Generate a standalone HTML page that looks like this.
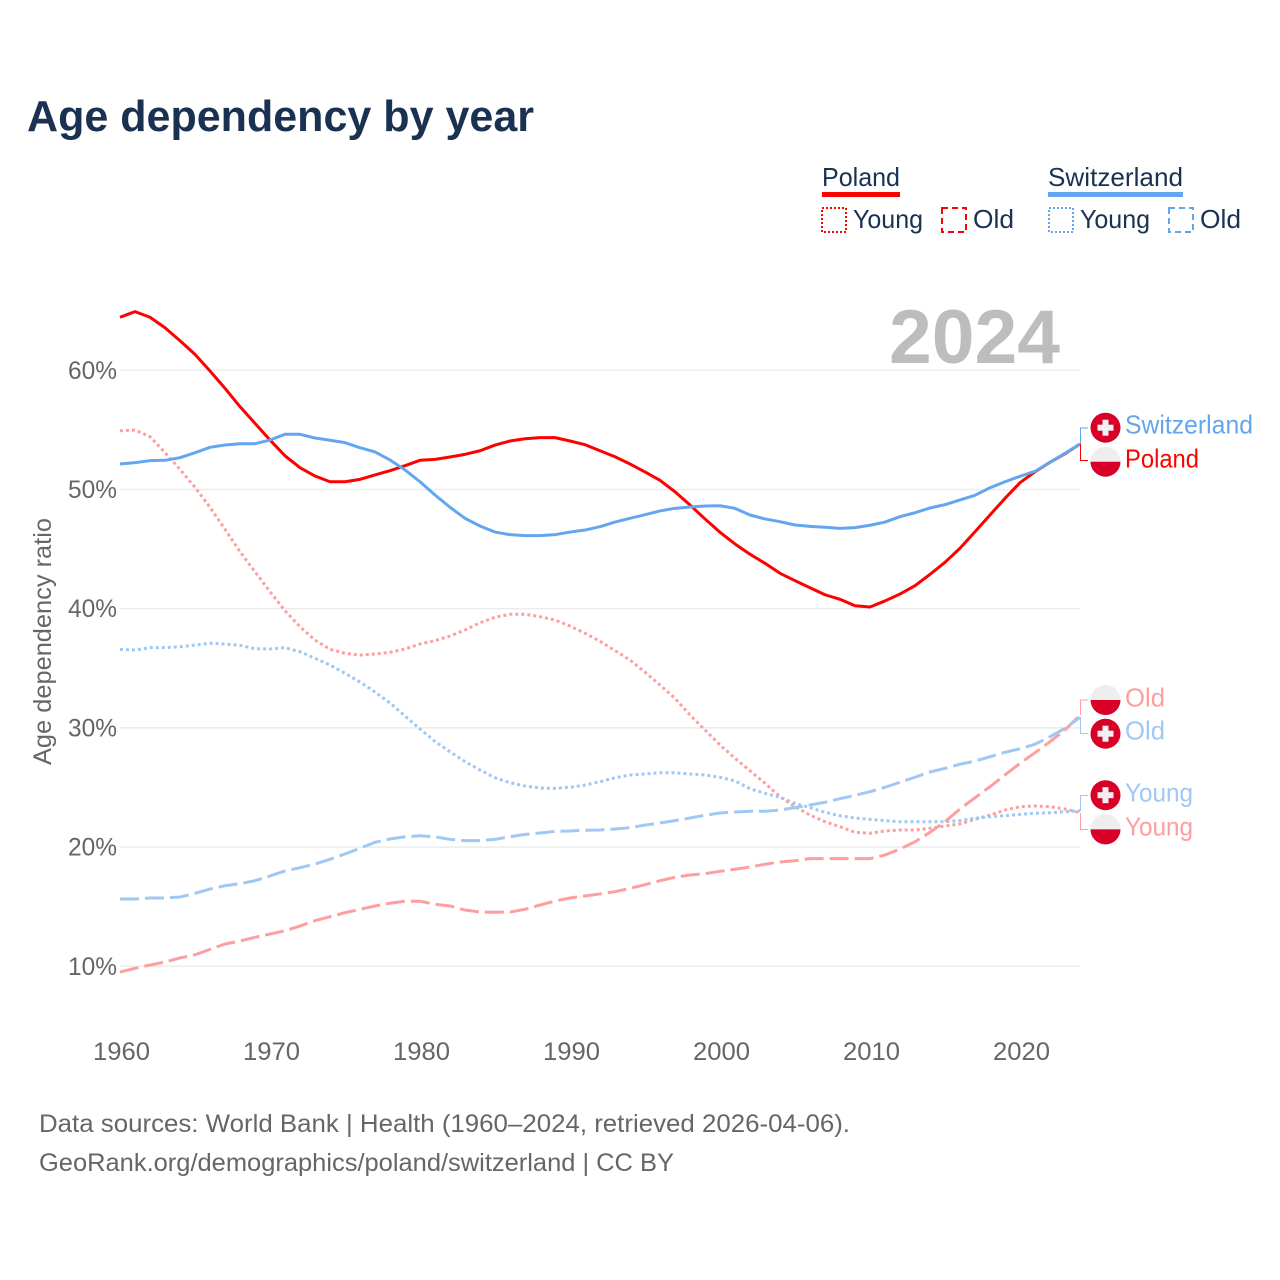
<!DOCTYPE html>
<html lang="en">
<head>
<meta charset="utf-8">
<title>Age dependency by year</title>
<style>
html,body{margin:0;padding:0;background:#fff;}
svg{display:block;font-family:"Liberation Sans",sans-serif;}
</style>
</head>
<body>
<svg id="chart" xmlns="http://www.w3.org/2000/svg" width="1280" height="1280" viewBox="0 0 1280 1280">
  <rect x="0" y="0" width="1280" height="1280" fill="#fff"/>
  <text x="27" y="131" font-size="44" font-weight="700" fill="#1a3152" textLength="507" lengthAdjust="spacingAndGlyphs">Age dependency by year</text>

  <g font-size="26" fill="#1a3152">
    <text x="822" y="186" textLength="78" lengthAdjust="spacingAndGlyphs">Poland</text>
    <rect x="822" y="192" width="78" height="5" fill="#ff0000"/>
    <rect x="822" y="208" width="24" height="24" fill="none" stroke="#ff0000" stroke-width="2" stroke-dasharray="2 2"/>
    <text x="853" y="228" textLength="70" lengthAdjust="spacingAndGlyphs">Young</text>
    <rect x="942" y="208" width="24" height="24" fill="none" stroke="#ff0000" stroke-width="2" stroke-dasharray="6 4"/>
    <text x="973" y="228" textLength="41" lengthAdjust="spacingAndGlyphs">Old</text>

    <text x="1048" y="186" textLength="135" lengthAdjust="spacingAndGlyphs">Switzerland</text>
    <rect x="1048" y="192" width="135" height="5" fill="#63a6ef"/>
    <rect x="1049" y="208" width="24" height="24" fill="none" stroke="#63a6ef" stroke-width="2" stroke-dasharray="2 2"/>
    <text x="1080" y="228" textLength="70" lengthAdjust="spacingAndGlyphs">Young</text>
    <rect x="1169" y="208" width="24" height="24" fill="none" stroke="#63a6ef" stroke-width="2" stroke-dasharray="6 4"/>
    <text x="1200" y="228" textLength="41" lengthAdjust="spacingAndGlyphs">Old</text>
  </g>

  <text x="889" y="363" font-size="76" font-weight="700" fill="#bdbdbd" textLength="171" lengthAdjust="spacingAndGlyphs">2024</text>
  <text transform="translate(51,765) rotate(-90)" x="0" y="0" font-size="25" fill="#666" textLength="247" lengthAdjust="spacingAndGlyphs">Age dependency ratio</text>

  <g id="grid"></g>
  <g id="yticks"></g>
  <g id="xticks"></g>
  <g id="lines"></g>

  <g font-size="26">
    <polyline points="1080.5,444 1080.5,428 1088,428" fill="none" stroke="#63a6ef" stroke-width="1"/>
    <polyline points="1080.5,444 1080.5,460.5 1088,460.5" fill="none" stroke="#ff0000" stroke-width="1"/>
    <polyline points="1080.5,715 1080.5,700 1088,700" fill="none" stroke="#ff9e9e" stroke-width="1"/>
    <polyline points="1080.5,717 1080.5,733.5 1088,733.5" fill="none" stroke="#9fc8f3" stroke-width="1"/>
    <polyline points="1080.5,811 1080.5,795.5 1088,795.5" fill="none" stroke="#9fc8f3" stroke-width="1"/>
    <polyline points="1080.5,813 1080.5,829.5 1088,829.5" fill="none" stroke="#ff9e9e" stroke-width="1"/>

    <g transform="translate(1105.5,427.7)">
      <circle r="15" fill="#d80027"/><rect x="-8" y="-3" width="16" height="6" fill="#f0f0f0"/><rect x="-3" y="-8" width="6" height="16" fill="#f0f0f0"/>
    </g>
    <g transform="translate(1105.5,461.7)">
      <circle r="15" fill="#eeeeee"/><path d="M-15 0A15 15 0 0 0 15 0Z" fill="#d80027"/>
    </g>
    <g transform="translate(1105.5,700)">
      <circle r="15" fill="#eeeeee"/><path d="M-15 0A15 15 0 0 0 15 0Z" fill="#d80027"/>
    </g>
    <g transform="translate(1105.5,733.7)">
      <circle r="15" fill="#d80027"/><rect x="-8" y="-3" width="16" height="6" fill="#f0f0f0"/><rect x="-3" y="-8" width="6" height="16" fill="#f0f0f0"/>
    </g>
    <g transform="translate(1105.5,795.2)">
      <circle r="15" fill="#d80027"/><rect x="-8" y="-3" width="16" height="6" fill="#f0f0f0"/><rect x="-3" y="-8" width="6" height="16" fill="#f0f0f0"/>
    </g>
    <g transform="translate(1105.5,829.4)">
      <circle r="15" fill="#eeeeee"/><path d="M-15 0A15 15 0 0 0 15 0Z" fill="#d80027"/>
    </g>

    <text x="1125" y="433.5" fill="#63a6ef" textLength="128" lengthAdjust="spacingAndGlyphs">Switzerland</text>
    <text x="1125" y="467.5" fill="#ff0000" textLength="74" lengthAdjust="spacingAndGlyphs">Poland</text>
    <text x="1125" y="706.5" fill="#ff9e9e" textLength="40" lengthAdjust="spacingAndGlyphs">Old</text>
    <text x="1125" y="739.5" fill="#9fc8f3" textLength="40" lengthAdjust="spacingAndGlyphs">Old</text>
    <text x="1125" y="801.5" fill="#9fc8f3" textLength="68" lengthAdjust="spacingAndGlyphs">Young</text>
    <text x="1125" y="835.5" fill="#ff9e9e" textLength="68" lengthAdjust="spacingAndGlyphs">Young</text>
  </g>

  <text x="39" y="1132" font-size="25" fill="#666" textLength="811" lengthAdjust="spacingAndGlyphs">Data sources: World Bank | Health (1960–2024, retrieved 2026-04-06).</text>
  <text x="39" y="1171" font-size="25" fill="#666" textLength="635" lengthAdjust="spacingAndGlyphs">GeoRank.org/demographics/poland/switzerland | CC BY</text>
</svg>
<script>
const startYear = 1960;
const xTickYears = [1960, 1970, 1980, 1990, 2000, 2010, 2020];
const yTickValues = [10, 20, 30, 40, 50, 60];

const polandTotal = [64.45,64.92,64.45,63.57,62.48,61.34,59.94,58.49,56.95,55.55,54.15,52.83,51.83,51.13,50.65,50.65,50.85,51.22,51.58,52.0,52.45,52.53,52.73,52.95,53.25,53.73,54.07,54.26,54.35,54.35,54.07,53.76,53.25,52.75,52.14,51.47,50.77,49.81,48.7,47.53,46.41,45.43,44.57,43.81,42.97,42.35,41.76,41.17,40.79,40.25,40.14,40.65,41.23,41.93,42.88,43.89,45.07,46.46,47.86,49.26,50.57,51.49,52.28,53.0,53.82];
const switzerlandTotal = [52.14,52.25,52.42,52.45,52.67,53.09,53.54,53.73,53.84,53.84,54.15,54.63,54.63,54.32,54.13,53.93,53.51,53.15,52.48,51.64,50.65,49.54,48.51,47.58,46.94,46.43,46.21,46.13,46.13,46.21,46.43,46.6,46.88,47.27,47.58,47.89,48.2,48.42,48.53,48.62,48.64,48.42,47.86,47.53,47.3,47.02,46.91,46.83,46.74,46.8,47.0,47.27,47.72,48.05,48.45,48.73,49.12,49.51,50.15,50.65,51.11,51.53,52.28,53.04,53.82];
const polandYoung = [54.93,54.99,54.43,53.09,51.69,50.18,48.51,46.66,44.78,43.1,41.43,39.83,38.49,37.37,36.59,36.26,36.11,36.2,36.34,36.62,37.04,37.32,37.71,38.21,38.82,39.28,39.53,39.53,39.33,39.05,38.55,37.94,37.27,36.48,35.7,34.67,33.6,32.48,31.08,29.82,28.57,27.45,26.4,25.35,24.23,23.39,22.69,22.13,21.71,21.24,21.16,21.35,21.44,21.44,21.58,21.77,21.94,22.33,22.69,23.11,23.39,23.45,23.39,23.2,22.88];
const switzerlandYoung = [36.59,36.53,36.73,36.73,36.81,36.95,37.1,37.04,36.93,36.64,36.62,36.73,36.39,35.84,35.28,34.58,33.85,33.01,32.09,31.0,29.91,28.86,28.0,27.17,26.47,25.82,25.4,25.13,24.96,24.93,25.02,25.21,25.48,25.82,26.05,26.13,26.24,26.24,26.13,26.05,25.86,25.55,24.9,24.51,24.18,23.67,23.31,22.92,22.63,22.44,22.33,22.22,22.13,22.13,22.13,22.13,22.22,22.42,22.55,22.63,22.75,22.84,22.88,22.97,23.05];
const polandOld = [9.52,9.83,10.11,10.36,10.7,10.97,11.42,11.87,12.12,12.43,12.71,12.98,13.38,13.83,14.16,14.5,14.78,15.06,15.29,15.46,15.46,15.2,15.06,14.72,14.55,14.53,14.55,14.78,15.14,15.48,15.73,15.9,16.07,16.26,16.54,16.85,17.18,17.47,17.66,17.77,17.97,18.14,18.33,18.56,18.75,18.86,19.03,19.03,19.03,19.03,19.03,19.34,19.84,20.45,21.24,22.13,23.2,24.14,25.07,26.05,27.03,27.92,28.84,29.82,31.08];
const switzerlandOld = [15.65,15.65,15.73,15.73,15.81,16.12,16.48,16.76,16.93,17.18,17.58,18.0,18.27,18.58,18.98,19.42,19.9,20.4,20.68,20.87,20.95,20.86,20.65,20.54,20.54,20.65,20.87,21.07,21.18,21.32,21.35,21.41,21.44,21.52,21.63,21.85,22.02,22.22,22.44,22.67,22.86,22.95,23.01,23.01,23.11,23.31,23.53,23.76,24.06,24.35,24.65,25.02,25.44,25.86,26.3,26.61,26.95,27.22,27.58,27.95,28.25,28.63,29.26,29.97,30.89];

const SVG_NS = 'http://www.w3.org/2000/svg';
function xScale(year) { return 120 + (year - 1960) * 15; }
function yScale(value) { return 966.3 - (value - 10) * 11.92; }

const grid = document.getElementById('grid');
const yticks = document.getElementById('yticks');
yTickValues.forEach(function (v) {
  const line = document.createElementNS(SVG_NS, 'line');
  
  
  line.setAttribute('x1', 120);
  line.setAttribute('x2', 1080);
  line.setAttribute('y1', yScale(v));
  line.setAttribute('y2', yScale(v));
  line.setAttribute('stroke', '#ececec');
  line.setAttribute('stroke-width', 1.5);
  grid.appendChild(line);

  const label = document.createElementNS(SVG_NS, 'text');
  
  
  label.setAttribute('x', 117);
  label.setAttribute('y', yScale(v) + 8.5);
  label.setAttribute('text-anchor', 'end');
  label.setAttribute('font-size', 25);
  label.setAttribute('fill', '#666');
  label.setAttribute('textLength', 49);
  label.setAttribute('lengthAdjust', 'spacingAndGlyphs');
  label.textContent = v + '%';
  yticks.appendChild(label);
});

const xticks = document.getElementById('xticks');
xTickYears.forEach(function (year) {
  const label = document.createElementNS(SVG_NS, 'text');
  
  
  label.setAttribute('x', xScale(year) + 1.5);
  label.setAttribute('y', 1060);
  label.setAttribute('text-anchor', 'middle');
  label.setAttribute('font-size', 25);
  label.setAttribute('fill', '#666');
  label.setAttribute('textLength', 57);
  label.setAttribute('lengthAdjust', 'spacingAndGlyphs');
  label.textContent = String(year);
  xticks.appendChild(label);
});

const lineLayer = document.getElementById('lines');
function drawSeries(seriesName, values, color, dash) {
  const path = document.createElementNS(SVG_NS, 'path');
  
  
  const d = values.map(function (v, i) {
    return (i ? 'L' : 'M') + xScale(startYear + i).toFixed(1) + ' ' + yScale(v).toFixed(2);
  }).join('');
  path.setAttribute('d', d);
  path.setAttribute('fill', 'none');
  path.setAttribute('stroke', color);
  path.setAttribute('stroke-width', 3);
  path.setAttribute('stroke-linejoin', 'round');
  if (dash) path.setAttribute('stroke-dasharray', dash);
  lineLayer.appendChild(path);
}
drawSeries('poland-young-line', polandYoung, '#ff9e9e', '3 3');
drawSeries('switzerland-young-line', switzerlandYoung, '#9fc8f3', '3 3');
drawSeries('poland-old-line', polandOld, '#ff9e9e', '19 6');
drawSeries('switzerland-old-line', switzerlandOld, '#9fc8f3', '19 6');
drawSeries('poland-total-line', polandTotal, '#ff0000', null);
drawSeries('switzerland-total-line', switzerlandTotal, '#63a6ef', null);
</script>
</body>
</html>
